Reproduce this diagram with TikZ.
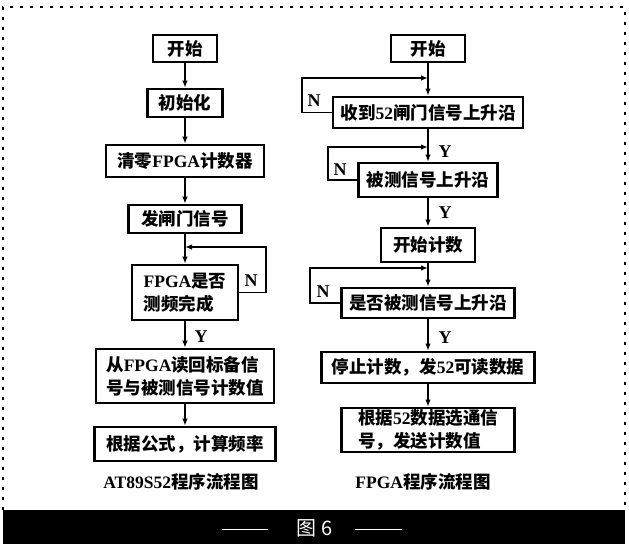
\documentclass[tikz,border=0pt]{standalone}
\usepackage{fontspec}
\setmainfont{Liberation Serif}
\newfontfamily\zhfont{Noto Sans CJK SC}
\newcommand\zh[1]{{\zhfont #1}}
\newcommand\fs{\fontsize{17.5}{23}\selectfont}
\usetikzlibrary{arrows.meta}
\begin{document}
\begin{tikzpicture}[x=1pt,y=-1pt,
  bx/.style={draw, line width=2.7pt, inner sep=0pt, font=\fs\bfseries},
  arr/.style={line width=1.6pt, -{Latex[length=7pt,width=5.5pt]}},
  lab/.style={font=\fontsize{18}{22}\selectfont\bfseries, inner sep=0pt},
  captxt/.style={font=\fontsize{17.5}{22}\selectfont\bfseries, inner sep=0pt},
  frame/.style={line width=2pt, dash pattern=on 3pt off 7pt}]
\useasboundingbox (0,0) rectangle (629,544);
% frame
\draw[frame] (3,510) -- (3,7) -- (625,7) -- (625,510);
\fill[black] (3,510) rectangle (625,544);
\node[text=white, inner sep=0pt, font=\fontsize{20}{22}\selectfont] (fig) at (315,528) {\zh{图} \zh{6}};
\draw[white, line width=1pt] (222,529) -- (268,529);
\draw[white, line width=1pt] (355,529) -- (402,529);
% left chart
\node[bx, minimum width=64, minimum height=27] (L1) at (185,48.5) {\zh{开始}};
\node[bx, minimum width=75, minimum height=28] (L2) at (185,103) {\zh{初始化}};
\node[bx, minimum width=158, minimum height=32] (L3) at (185,161) {\zh{清零}FPGA\zh{计数器}};
\node[bx, minimum width=113, minimum height=28] (L4) at (185,219) {\zh{发闸门信号}};
\node[bx, minimum width=106, minimum height=55, align=left] (L5) at (185,292.5) {FPGA\zh{是否}\\\zh{测频完成}};
\node[bx, minimum width=178, minimum height=54, align=left] (L6) at (185,376) {\zh{从}FPGA\zh{读回标备信}\\\zh{号与被测信号计数值}};
\node[bx, minimum width=181, minimum height=34] (L7) at (185,444) {\zh{根据公式，计算频率}};
\node[captxt] (cap1) at (181,482) {AT89S52\zh{程序流程图}};
\draw[arr] (L1) -- (L2);
\draw[arr] (L2) -- (L3);
\draw[arr] (L3) -- (L4);
\draw[arr] (L4) -- (L5);
\draw[arr] (L5) -- (L6);
\draw[arr] (L6) -- (L7);
\coordinate (lc) at (266,247);
\coordinate (lj) at (185,247);
\draw[arr] (L5.east) -| (lc) -- (lj);
\node[lab] (ln) at (251,281) {N};
\node[lab] (ly) at (201,337) {Y};
% right chart
\node[bx, minimum width=74, minimum height=27] (R1) at (428,48.5) {\zh{开始}};
\node[bx, minimum width=190, minimum height=31] (R2) at (428,112.5) {\zh{收到}52\zh{闸门信号上升沿}};
\node[bx, minimum width=139, minimum height=34] (R3) at (428,180) {\zh{被测信号上升沿}};
\node[bx, minimum width=94, minimum height=34] (R4) at (428,245) {\zh{开始计数}};
\node[bx, minimum width=173, minimum height=30] (R5) at (428,303) {\zh{是否被测信号上升沿}};
\node[bx, minimum width=213, minimum height=31] (R6) at (428,367.5) {\zh{停止计数，发}52\zh{可读数据}};
\node[bx, minimum width=173, minimum height=44, align=left] (R7) at (428,430) {\zh{根据}52\zh{数据选通信}\\\zh{号，发送计数值}};
\node[captxt] (cap2) at (423,482) {FPGA\zh{程序流程图}};
\draw[arr] (R1) -- (R2);
\draw[arr] (R2) -- (R3);
\draw[arr] (R3) -- (R4);
\draw[arr] (R4) -- (R5);
\draw[arr] (R5) -- (R6);
\draw[arr] (R6) -- (R7);
\coordinate (rc1) at (302,78);  \coordinate (rj1) at (428,78);
\coordinate (rc2) at (328,147); \coordinate (rj2) at (428,147);
\coordinate (rc3) at (310,268); \coordinate (rj3) at (428,268);
\draw[arr] (R2.west) -| (rc1) -- (rj1);
\draw[arr] (R3.west) -| (rc2) -- (rj2);
\draw[arr] (R5.west) -| (rc3) -- (rj3);
\node[lab] (rn1) at (314,101) {N};
\node[lab] (rn2) at (340,170) {N};
\node[lab] (rn3) at (323,292) {N};
\node[lab] (ry1) at (445,152) {Y};
\node[lab] (ry2) at (445,213) {Y};
\node[lab] (ry3) at (445,338) {Y};
\end{tikzpicture}
\end{document}
